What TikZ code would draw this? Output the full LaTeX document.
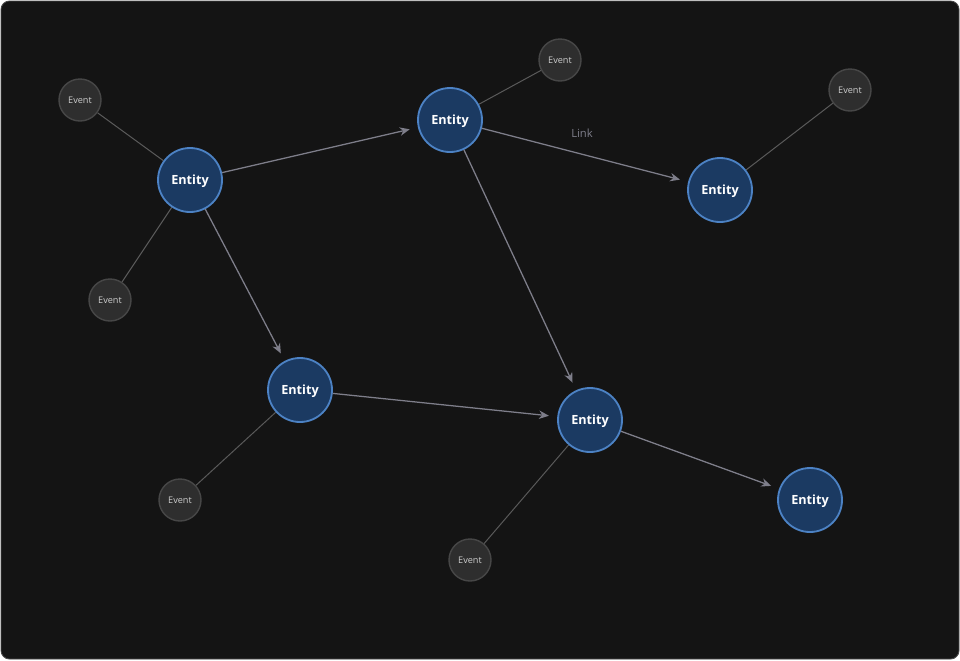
\documentclass[tikz,border=0pt]{standalone}
\usepackage{fontspec}
\setmainfont{Open Sans}
\usetikzlibrary{arrows.meta,positioning,backgrounds}
\definecolor{bgdark}{HTML}{141414}
\definecolor{frameg}{HTML}{4A4A4A}
\definecolor{entfill}{HTML}{1B3A62}
\definecolor{entline}{HTML}{4C82C4}
\definecolor{evfill}{HTML}{2E2E2E}
\definecolor{evline}{HTML}{474747}
\definecolor{linkg}{HTML}{7E7E8A}
\definecolor{evedge}{HTML}{5A5A5A}
\tikzset{
  entity/.style={circle, draw=entline, line width=1.3pt, fill=entfill, minimum size=64*0.025cm, inner sep=0pt, text=white, text depth=0pt, font=\bfseries\fontsize{9}{10}\selectfont},
  event/.style={circle, draw=evline, line width=1pt, fill=evfill, minimum size=42*0.025cm, inner sep=0pt, text=white!80!black, text depth=0pt, font=\fontsize{6.5}{7}\selectfont},
  link/.style={draw=linkg, line width=0.9pt, -{Stealth[length=7pt,width=6pt]}, shorten >=6pt},
  evlink/.style={draw=evedge, line width=0.7pt}
}
\begin{document}
\begin{tikzpicture}[x=0.025cm, y=-0.025cm]
\useasboundingbox (0,0) rectangle (960,660);
% entities
\draw (190,180) node (e1) [entity] {Entity};
\draw (450,120) node (e2) [entity] {Entity};
\draw (720,190) node (e3) [entity] {Entity};
\draw (300,390) node (e4) [entity] {Entity};
\draw (590,420) node (e5) [entity] {Entity};
\draw (810,500) node (e6) [entity] {Entity};
% events
\draw (80,100) node (v1) [event] {Event};
\draw (110,300) node (v2) [event] {Event};
\draw (560,60) node (v3) [event] {Event};
\draw (850,90) node (v4) [event] {Event};
\draw (180,500) node (v5) [event] {Event};
\draw (470,560) node (v6) [event] {Event};
\begin{scope}[on background layer]
\draw[frameg, fill=bgdark, line width=0.6pt, rounded corners=6pt] (1,1) rectangle (959,659);
\draw[evlink] (v1)--(e1);
\draw[evlink] (v2)--(e1);
\draw[evlink] (v3)--(e2);
\draw[evlink] (v4)--(e3);
\draw[evlink] (v5)--(e4);
\draw[evlink] (v6)--(e5);
\end{scope}
\draw[link] (e1)--(e2);
\draw[link] (e2)--(e3);
\draw[link] (e2)--(e5);
\draw[link] (e1)--(e4);
\draw[link] (e4)--(e5);
\draw[link] (e5)--(e6);
\node (lnk) at (582,133) [text=linkg, font=\fontsize{8}{9}\selectfont] {Link};
\end{tikzpicture}
\end{document}
